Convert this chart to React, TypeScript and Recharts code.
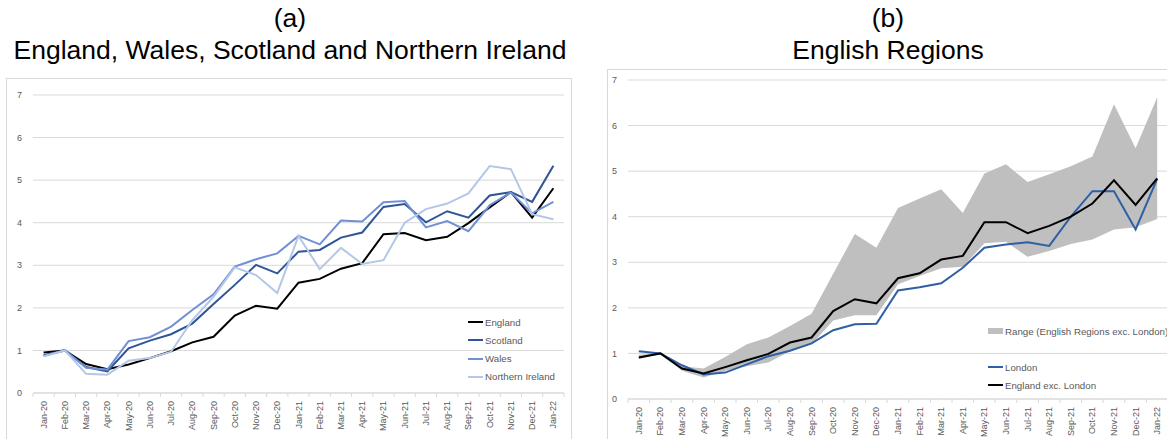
import React from "react";
import {
  LineChart,
  ComposedChart,
  Line,
  Area,
  XAxis,
  YAxis,
  CartesianGrid,
  Legend,
} from "recharts";

const months = [
  "Jan-20", "Feb-20", "Mar-20", "Apr-20", "May-20", "Jun-20", "Jul-20", "Aug-20", "Sep-20",
  "Oct-20", "Nov-20", "Dec-20", "Jan-21", "Feb-21", "Mar-21", "Apr-21", "May-21", "Jun-21",
  "Jul-21", "Aug-21", "Sep-21", "Oct-21", "Nov-21", "Dec-21", "Jan-22",
];
const yTicks = [0, 1, 2, 3, 4, 5, 6, 7];

// panel (a)
const england = [0.95, 1.0, 0.68, 0.56, 0.67, 0.82, 0.98, 1.19, 1.32, 1.82, 2.05, 1.98, 2.59, 2.68, 2.92, 3.05, 3.73, 3.76, 3.59, 3.67, 3.99, 4.36, 4.72, 4.12, 4.81];
const scotland = [0.89, 1.0, 0.61, 0.51, 1.05, 1.23, 1.38, 1.63, 2.09, 2.54, 3.01, 2.81, 3.32, 3.36, 3.65, 3.77, 4.37, 4.44, 4.01, 4.27, 4.12, 4.64, 4.72, 4.49, 5.34];
const wales = [0.87, 1.0, 0.59, 0.55, 1.22, 1.31, 1.56, 1.95, 2.32, 2.97, 3.14, 3.28, 3.69, 3.49, 4.05, 4.03, 4.48, 4.51, 3.89, 4.04, 3.8, 4.41, 4.71, 4.22, 4.49];
const northernIreland = [0.86, 1.0, 0.45, 0.43, 0.76, 0.82, 0.97, 1.71, 2.26, 2.95, 2.77, 2.35, 3.69, 2.91, 3.41, 3.03, 3.12, 4.0, 4.32, 4.45, 4.69, 5.33, 5.26, 4.2, 4.08];

// panel (b)
const london = [1.05, 1.0, 0.74, 0.54, 0.58, 0.76, 0.94, 1.06, 1.22, 1.51, 1.64, 1.65, 2.38, 2.45, 2.54, 2.88, 3.32, 3.39, 3.44, 3.36, 4.0, 4.56, 4.56, 3.72, 4.83];
const englandExLondon = [0.91, 1.0, 0.67, 0.56, 0.7, 0.85, 0.99, 1.24, 1.35, 1.93, 2.19, 2.1, 2.65, 2.76, 3.06, 3.14, 3.88, 3.88, 3.64, 3.8, 4.0, 4.29, 4.8, 4.26, 4.84];
const rangeLow = [0.88, 0.99, 0.62, 0.47, 0.62, 0.72, 0.8, 1.05, 1.2, 1.72, 1.84, 1.84, 2.52, 2.7, 2.87, 2.9, 3.42, 3.45, 3.12, 3.25, 3.4, 3.5, 3.72, 3.77, 3.95];
const rangeHigh = [0.97, 1.01, 0.72, 0.67, 0.92, 1.2, 1.35, 1.6, 1.87, 2.75, 3.62, 3.32, 4.19, 4.4, 4.6, 4.08, 4.95, 5.15, 4.76, 4.93, 5.11, 5.32, 6.47, 5.5, 6.62];

const nationsLegend = ["England", "Scotland", "Wales", "Northern Ireland"];
const regionsLegend = ["Range (English Regions exc. London)", "London", "England exc. London"];

const nationsData = months.map((m, i) => ({
  month: m,
  England: england[i],
  Scotland: scotland[i],
  Wales: wales[i],
  NI: northernIreland[i],
}));

const regionsData = months.map((m, i) => ({
  month: m,
  range: [rangeLow[i], rangeHigh[i]],
  London: london[i],
  ExLondon: englandExLondon[i],
}));

const FONT = "'Liberation Sans', Arial, sans-serif";
const GRID = "#d9d9d9";
const TXT = "#595959";
const TICK_GAP = 8;

const W = 566;
const H = 380;

const MonthTick = (props: any) => {
  const { x, y, payload, index, band } = props;
  const axisY = y - TICK_GAP;
  return (
    <g>
      <line x1={x - band / 2} x2={x - band / 2} y1={axisY} y2={axisY + 4} stroke={GRID} />
      {index === months.length - 1 && (
        <line x1={x + band / 2} x2={x + band / 2} y1={axisY} y2={axisY + 4} stroke={GRID} />
      )}
      <text
        x={x}
        y={y}
        transform={`rotate(-90, ${x}, ${y})`}
        textAnchor="end"
        dominantBaseline="central"
        fontSize={9}
        fontFamily={FONT}
        fill={TXT}
      >
        {payload.value}
      </text>
    </g>
  );
};

const LegendList = ({ payload, order, rowTops }: any) => {
  const items = order
    .map((name: string) => (payload || []).find((e: any) => e.value === name))
    .filter(Boolean);
  return (
    <div style={{ position: "relative", fontFamily: FONT, fontSize: 9.7, color: TXT }}>
      {items.map((entry: any, i: number) => (
        <div
          key={entry.value}
          style={{ position: "absolute", top: rowTops[i], left: 0, height: 18, display: "flex", alignItems: "center", whiteSpace: "nowrap" }}
        >
          {entry.type === "rect" ? (
            <span style={{ display: "inline-block", width: 15, height: 6, background: entry.color, marginRight: 2 }} />
          ) : (
            <span style={{ display: "inline-block", width: 15, height: 2, background: entry.color, marginRight: 2 }} />
          )}
          {entry.value}
        </div>
      ))}
    </div>
  );
};

const axisTickY = { fontSize: 9, fontFamily: FONT, fill: TXT };

const titleStyle: React.CSSProperties = {
  position: "absolute",
  top: 2,
  width: 580,
  textAlign: "center",
  fontFamily: FONT,
  fontSize: 26.5,
  lineHeight: "32px",
  color: "#000",
};

const App = () => {
  const leftY = 27;
  const leftMR = 8;
  const leftBand = (W - leftY - leftMR) / months.length;
  const rightY = 21;
  const rightMR = 5;
  const rightBand = (W - rightY - rightMR) / months.length;

  return (
    <div style={{ position: "absolute", left: 0, top: 0, width: 1167, height: 439, overflow: "hidden", background: "#fff" }}>
      <div style={{ ...titleStyle, left: 0 }}>
        (a)
        <br />
        England, Wales, Scotland and Northern Ireland
      </div>
      <div style={{ ...titleStyle, left: 598 }}>
        (b)
        <br />
        English Regions
      </div>

      <div style={{ position: "absolute", left: 6, top: 78, width: W, height: H, border: `1px solid ${GRID}`, boxSizing: "border-box" }} />
      <div style={{ position: "absolute", left: 607, top: 69, width: W, height: H, border: `1px solid ${GRID}`, boxSizing: "border-box" }} />

      <div style={{ position: "absolute", left: 6, top: 78 }}>
        <LineChart width={W} height={H} data={nationsData} margin={{ top: 17, right: leftMR, left: 0, bottom: 0 }}>
          <CartesianGrid horizontal vertical={false} stroke={GRID} />
          <XAxis
            dataKey="month"
            scale="band"
            interval={0}
            height={65}
            tickSize={0}
            tickMargin={TICK_GAP}
            axisLine={{ stroke: GRID }}
            tickLine={false}
            tick={(p: any) => <MonthTick {...p} band={leftBand} />}
          />
          <YAxis
            domain={[0, 7]}
            ticks={yTicks}
            width={leftY}
            axisLine={false}
            tickLine={false}
            tickSize={0}
            tickMargin={11}
            tick={axisTickY}
          />
          <Line dataKey="England" name="England" stroke="#000000" strokeWidth={2} dot={false} isAnimationActive={false} />
          <Line dataKey="Scotland" name="Scotland" stroke="#2f5597" strokeWidth={2} dot={false} isAnimationActive={false} />
          <Line dataKey="Wales" name="Wales" stroke="#7190d4" strokeWidth={2} dot={false} isAnimationActive={false} />
          <Line dataKey="NI" name="Northern Ireland" stroke="#b4c7e7" strokeWidth={2} dot={false} isAnimationActive={false} />
          <Legend
            wrapperStyle={{ left: 462, top: 235, width: 110 }}
            content={(p: any) => <LegendList payload={p.payload} order={nationsLegend} rowTops={[0, 18.3, 36.6, 54.9]} />}
          />
        </LineChart>
      </div>

      <div style={{ position: "absolute", left: 607, top: 69 }}>
        <ComposedChart width={W} height={H} data={regionsData} margin={{ top: 11, right: rightMR, left: 0, bottom: 0 }}>
          <CartesianGrid horizontal vertical={false} stroke={GRID} />
          <XAxis
            dataKey="month"
            scale="band"
            interval={0}
            height={50}
            tickSize={0}
            tickMargin={TICK_GAP}
            axisLine={{ stroke: GRID }}
            tickLine={false}
            tick={(p: any) => <MonthTick {...p} band={rightBand} />}
          />
          <YAxis
            domain={[0, 7]}
            ticks={yTicks}
            width={rightY}
            axisLine={false}
            tickLine={false}
            tickSize={0}
            tickMargin={11}
            tick={axisTickY}
          />
          <Area
            dataKey="range"
            name="Range (English Regions exc. London)"
            fill="#bfbfbf"
            fillOpacity={1}
            stroke="none"
            legendType="rect"
            isAnimationActive={false}
          />
          <Line dataKey="London" name="London" stroke="#2f5fa5" strokeWidth={2} dot={false} isAnimationActive={false} />
          <Line dataKey="ExLondon" name="England exc. London" stroke="#000000" strokeWidth={2} dot={false} isAnimationActive={false} />
          <Legend
            wrapperStyle={{ left: 381, top: 253, width: 190 }}
            content={(p: any) => <LegendList payload={p.payload} order={regionsLegend} rowTops={[0, 36, 54]} />}
          />
        </ComposedChart>
      </div>
    </div>
  );
};

export default App;
